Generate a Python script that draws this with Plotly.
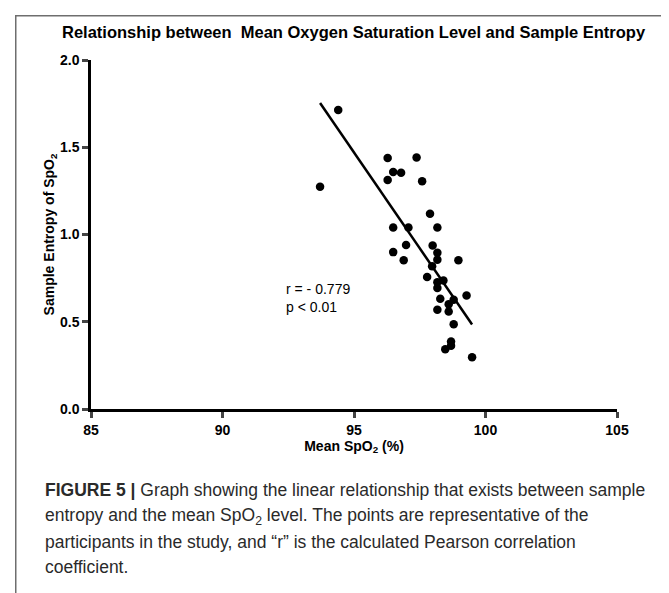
import numpy as np
import plotly.graph_objects as go

# Data
spo2 = [93.71, 94.40, 96.28, 97.38, 96.49, 96.79, 96.28, 97.59, 97.89, 96.49,
        97.07, 98.17, 96.98, 97.99, 96.49, 98.17, 96.89, 98.17, 98.97, 97.97,
        97.78, 98.17, 98.40, 98.17, 98.28, 98.79, 99.28, 98.60, 98.17, 98.60,
        98.79, 98.69, 98.69, 98.47, 99.49]
entropy = [1.274, 1.713, 1.439, 1.441, 1.358, 1.354, 1.312, 1.305, 1.119, 1.040,
           1.040, 1.040, 0.940, 0.937, 0.899, 0.895, 0.852, 0.856, 0.852, 0.818,
           0.757, 0.726, 0.736, 0.693, 0.632, 0.626, 0.651, 0.601, 0.569, 0.559,
           0.486, 0.387, 0.362, 0.343, 0.297]
x_ticks = [85, 90, 95, 100, 105]
y_ticks = [0.0, 0.5, 1.0, 1.5, 2.0]
y_tick_labels = ["0.0", "0.5", "1.0", "1.5", "2.0"]
stats_text = "r = - 0.779<br>p < 0.01"
title_text = "Relationship between  Mean Oxygen Saturation Level and Sample Entropy"
caption_lines = [
    "<b>FIGURE 5 |</b> Graph showing the linear relationship that exists between sample",
    "entropy and the mean SpO<sub>2</sub> level. The points are representative of the",
    "participants in the study, and \u201cr\u201d is the calculated Pearson correlation",
    "coefficient.",
]

slope, intercept = np.polyfit(spo2, entropy, 1)
fit_x = [min(spo2), max(spo2)]
fit_y = [slope * v + intercept for v in fit_x]

# page offset of the figure inside the browser (body margin)
OX, OY = 7, 8
W, H = 669, 593
pw, ph = 526, 349
L, T = 90 - OX, 60 - OY
R, B = W - L - pw, H - T - ph

def px(xs):
    return (xs - OX - L) / pw

def py(ys):
    return (H - B - (ys - OY)) / ph

AX = "Liberation Sans, Arial, sans-serif"

fig = go.Figure()
fig.add_trace(go.Scatter(x=fit_x, y=fit_y, mode="lines",
                         line=dict(color="black", width=2.5), showlegend=False))
fig.add_trace(go.Scatter(x=spo2, y=entropy, mode="markers",
                         marker=dict(color="black", size=8.5), showlegend=False))

fig.update_layout(
    width=W, height=H,
    margin=dict(l=L, r=R, t=T, b=B, autoexpand=False),
    plot_bgcolor="white", paper_bgcolor="white",
    font=dict(family=AX, color="black"),
    xaxis=dict(range=[85, 105], tickvals=x_ticks, showline=True, linewidth=2.5,
               linecolor="black", ticks="outside", ticklen=6, tickwidth=2.5,
               showgrid=False, zeroline=False, automargin=False,
               tickfont=dict(size=14, family=AX, weight="bold"),
               title=dict(text="<b>Mean SpO<sub>2</sub> (%)</b>", font=dict(size=14), standoff=4)),
    yaxis=dict(range=[0, 2], tickvals=y_ticks, ticktext=y_tick_labels, showline=True,
               linewidth=2.5, linecolor="black", ticks="outside", ticklen=6, tickwidth=2.5,
               showgrid=False, zeroline=False, automargin=False,
               tickfont=dict(size=14, family=AX, weight="bold"),
               title=dict(text="<b>Sample Entropy of SpO<sub>2</sub></b>", font=dict(size=14), standoff=3)),
)

# outer figure frame (open at the bottom, beyond the picture)
fig.add_annotation(x=px(14), y=py(15), xref="paper", yref="paper", text=" ",
                   showarrow=False, xanchor="left", yanchor="top",
                   width=650, height=640, borderpad=0,
                   bordercolor="#6e6e6e", borderwidth=1.5)

fig.add_annotation(x=px(353), y=py(32), xref="paper", yref="paper", text="<b>" + title_text + "</b>",
                   showarrow=False, font=dict(size=16.5, family=AX), xanchor="center", yanchor="middle")
fig.add_annotation(x=92.35, y=0.635, xref="x", yref="y", text=stats_text, showarrow=False,
                   align="left", xanchor="left", yanchor="middle", font=dict(size=14, family=AX))

CAP = "Liberation Sans, Arial, sans-serif"
cap_y = [490, 516, 542, 567]
for line, yy in zip(caption_lines, cap_y):
    fig.add_annotation(x=px(42), y=py(yy), xref="paper", yref="paper", text=line,
                       showarrow=False, xanchor="left", yanchor="middle",
                       font=dict(size=17.5, family=CAP, color="#2a2a2a"))

fig.write_html("out.html")
